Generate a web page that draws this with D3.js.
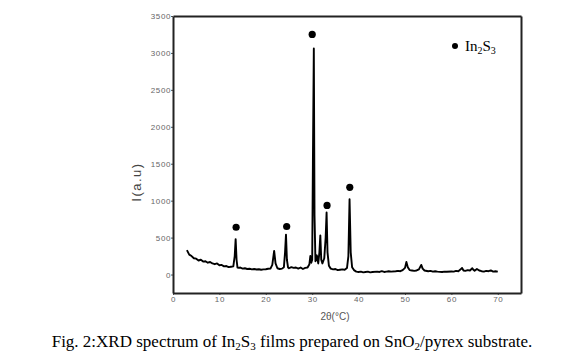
<!DOCTYPE html>
<html><head><meta charset="utf-8">
<script src="https://cdn.jsdelivr.net/npm/d3@7"></script>
<style>body{margin:0;background:#fff}svg{display:block}</style>
</head><body>
<svg id="c" width="584" height="359"></svg>
<script>
const twoTheta = [3.0,3.5,4.0,4.5,5.0,5.5,6.0,6.5,7.0,7.5,8.0,8.5,9.0,9.5,10.0,10.5,11.0,11.5,12.0,12.5,13.0,13.3,13.5,13.7,13.9,14.2,14.5,15,15.5,16,16.5,17,17.5,18,18.5,19,19.5,20,20.5,21,21.4,21.8,22.1,22.5,23,23.5,23.9,24.15,24.35,24.55,24.8,25,25.5,26,26.5,27,27.5,28,28.5,29,29.4,29.6,29.8,30.0,30.15,30.35,30.5,30.7,31.0,31.3,31.55,31.75,31.95,32.2,32.6,32.9,33.1,33.3,33.6,34,34.5,35,35.5,36,36.5,37,37.5,37.8,38.05,38.3,38.6,39,39.5,40,40.5,41,41.5,42,42.5,43,44,44.5,45,45.5,46,46.5,47,48,48.5,49,49.5,50,50.3,50.6,51,51.5,52,52.5,53,53.5,53.8,54.2,55,55.5,56,56.5,57,58,58.5,59,60,60.5,61,61.5,62,62.3,62.6,63,63.5,64,64.5,64.8,65,65.5,66,66.5,67,67.5,68,68.5,69,69.5,70];
const intensity = [330,270,250,220,215,190,200,175,180,160,170,150,140,150,125,130,110,115,100,105,110,250,480,200,95,90,95,80,85,75,78,70,75,68,72,65,70,72,78,80,130,320,150,85,75,80,100,300,540,200,95,85,100,90,95,80,95,75,90,95,140,250,160,200,1500,3060,800,180,260,150,300,530,200,150,220,500,840,300,120,80,70,75,60,65,70,65,90,250,1020,300,100,60,40,35,40,30,35,40,30,35,40,35,45,35,40,45,40,45,50,45,60,90,170,100,60,55,50,55,70,130,80,55,45,50,40,45,40,35,40,38,42,40,50,45,70,90,55,50,60,55,85,60,50,75,55,45,40,50,45,55,40,45,40];
const peakTheta = [13.6,24.5,30.0,33.2,38.1];
const peakMark = [640,650,3250,935,1180];
const xTicks = [0,10,20,30,40,50,60,70];
const yTicks = [0,500,1000,1500,2000,2500,3000,3500];

const svg = d3.select("#c");
const L=173,R=521,T=16,B=293;
const x = d3.scaleLinear().domain([0,75]).range([L,R]);
const y = d3.scaleLinear().domain([-250,3500]).range([B,T]);

const tickStyle = g => {
  g.select(".domain").remove();
  g.selectAll("line").attr("stroke","#555");
  g.selectAll("text").attr("fill","#666").style("font-family","Arial, 'Liberation Sans', sans-serif").style("font-size","8px").style("letter-spacing","0.6px");
};
svg.append("g").attr("transform",`translate(0,${B})`)
  .call(d3.axisBottom(x).tickValues(xTicks).tickFormat(d3.format("d")).tickSize(2).tickPadding(1)).call(tickStyle);
svg.append("g").attr("transform",`translate(${L},0)`)
  .call(d3.axisLeft(y).tickValues(yTicks).tickFormat(d3.format("d")).tickSize(2).tickPadding(0)).call(tickStyle);

// frame: top/right via axes with no ticks
svg.append("g").attr("transform",`translate(0,${T})`)
  .call(d3.axisTop(x).tickValues([]).tickSizeOuter(0))
  .call(g=>g.select(".domain").attr("stroke","#222").attr("stroke-width",2));
svg.append("g").attr("transform",`translate(${R},0)`)
  .call(d3.axisRight(y).tickValues([]).tickSizeOuter(0))
  .call(g=>g.select(".domain").attr("stroke","#222").attr("stroke-width",2));
svg.append("g").attr("transform",`translate(0,${B})`)
  .call(d3.axisBottom(x).tickValues([]).tickSizeOuter(0))
  .call(g=>g.select(".domain").attr("stroke","#222").attr("stroke-width",2));
svg.append("g").attr("transform",`translate(${L},0)`)
  .call(d3.axisLeft(y).tickValues([]).tickSizeOuter(0))
  .call(g=>g.select(".domain").attr("stroke","#222").attr("stroke-width",2));

const line = d3.line().x((d,i)=>x(twoTheta[i])).y(d=>y(d));
svg.append("path").datum(intensity).attr("d",line)
  .attr("fill","none").attr("stroke","#000").attr("stroke-width",1.9).attr("stroke-linejoin","round");

svg.selectAll("circle.pk").data(peakMark).enter().append("circle").attr("class","pk")
  .attr("cx",(d,i)=>x(peakTheta[i])).attr("cy",d=>y(d)).attr("r",3.6).attr("fill","#000");

// legend
svg.append("circle").attr("cx",455).attr("cy",46).attr("r",3).attr("fill","#000");
const lg = svg.append("text").attr("x",465).attr("y",51)
  .style("font-family","'Liberation Serif','Times New Roman',serif").style("font-size","15px").attr("fill","#000");
lg.append("tspan").text("In");
lg.append("tspan").attr("dy",3).style("font-size","10px").text("2");
lg.append("tspan").attr("dy",-3).text("S");
lg.append("tspan").attr("dy",3).style("font-size","10px").text("3");

// axis labels
svg.append("text").attr("transform","translate(141,182) rotate(-90)").attr("text-anchor","middle")
  .style("font-family","Arial, 'Liberation Sans', sans-serif").style("font-size","13px").style("letter-spacing","1.5px")
  .attr("fill","#444").text("I(a.u)");
svg.append("text").attr("x",335).attr("y",320).attr("text-anchor","middle")
  .style("font-family","Arial, 'Liberation Sans', sans-serif").style("font-size","10px")
  .attr("fill","#555").text("2θ(°C)");

// caption
const cap = svg.append("text").attr("x",292).attr("y",347).attr("text-anchor","middle")
  .style("font-family","'Liberation Serif','Times New Roman',serif").style("font-size","17px").attr("fill","#000");
cap.append("tspan").text("Fig. 2:XRD spectrum of In");
cap.append("tspan").attr("dy",3).style("font-size","11px").text("2");
cap.append("tspan").attr("dy",-3).text("S");
cap.append("tspan").attr("dy",3).style("font-size","11px").text("3");
cap.append("tspan").attr("dy",-3).text(" films prepared on SnO");
cap.append("tspan").attr("dy",3).style("font-size","11px").text("2");
cap.append("tspan").attr("dy",-3).text("/pyrex substrate.");
</script>
</body></html>
